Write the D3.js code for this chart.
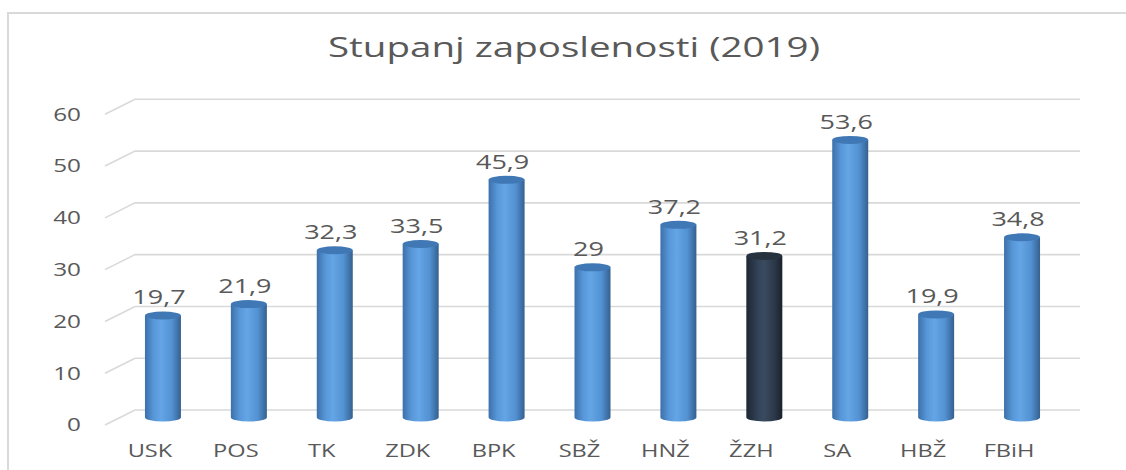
<html>
<head>
  <meta charset="utf-8">
  <script src="https://cdn.jsdelivr.net/npm/d3@7"></script>
  <style>
    body { margin: 0; background: #fff; }
    text { font-family: "Open Sans", sans-serif; fill: #595959; }
  </style>
</head>
<body>
<div id="chart"></div>
<script>

var categories = ["USK", "POS", "TK", "ZDK", "BPK", "SBŽ", "HNŽ", "ŽZH", "SA", "HBŽ", "FBiH"]
var values = [19.7, 21.9, 32.3, 33.5, 45.9, 29, 37.2, 31.2, 53.6, 19.9, 34.8]
var labels = ["19,7", "21,9", "32,3", "33,5", "45,9", "29", "37,2", "31,2", "53,6", "19,9", "34,8"]
var yTicks = [0, 10, 20, 30, 40, 50, 60]
var highlight = "ŽZH"
var title = "Stupanj zaposlenosti (2019)"

var W = 1126, H = 470
var svg = d3.select("#chart").append("svg").attr("width", W).attr("height", H)

// chart frame (only left + top visible in the picture)
svg.append("rect").attr("x", 8).attr("y", 13).attr("width", W + 20).attr("height", H + 20)
   .attr("fill", "none").attr("stroke", "#d9d9d9").attr("stroke-width", 2)

// back wall scales, depth goes (-30, +15) toward the viewer
var x = d3.scaleBand().domain(categories).range([135, 1080])
var y = d3.scaleLinear().domain([0, 60]).range([410, 99.3])
var dx = -30, dy = 15
var sx = 1.35   // source text looks stretched horizontally

var defs = svg.append("defs")
function grad(id, stops) {
  var g = defs.append("linearGradient").attr("id", id)
  stops.forEach(function(s) { g.append("stop").attr("offset", s[0]).attr("stop-color", s[1]) })
}
grad("blue", [[0, "#3d70a9"], [0.25, "#5898da"], [0.45, "#64a5e6"], [0.75, "#5291d2"], [1, "#35608f"]])
grad("dark", [[0, "#1d2733"], [0.35, "#34445a"], [0.5, "#3a4a5f"], [0.8, "#2a3748"], [1, "#19212b"]])

// gridlines with the floor slant
var grid = svg.append("g")
yTicks.forEach(function(t) {
  grid.append("path")
      .attr("d", "M" + (x.range()[0] + dx) + "," + (y(t) + dy) + "L" + x.range()[0] + "," + y(t) + "L" + x.range()[1] + "," + y(t))
      .attr("fill", "none").attr("stroke", "#d9d9d9").attr("stroke-width", 1.6)
  svg.append("text")
      .attr("transform", "translate(81," + (y(t) + dy) + ") scale(" + sx + ",1)")
      .attr("text-anchor", "end").attr("dy", "0.35em")
      .style("font-size", "18px").text(t)
})

// cylinders, sitting half way into the depth
var rx = 18, ry = 4
var bars = svg.append("g")
categories.forEach(function(c, i) {
  var cx = x(c) + x.bandwidth() / 2 + dx / 2
  var base = y(0) + dy / 2
  var top = y(values[i]) + dy / 2
  var dark = c === highlight
  bars.append("path")
      .attr("d", "M" + (cx - rx) + "," + top + "L" + (cx - rx) + "," + base +
                 "A" + rx + "," + ry + " 0 0 0 " + (cx + rx) + "," + base +
                 "L" + (cx + rx) + "," + top + "Z")
      .attr("fill", dark ? "url(#dark)" : "url(#blue)")
  bars.append("ellipse")
      .attr("cx", cx).attr("cy", top).attr("rx", rx).attr("ry", ry)
      .attr("fill", dark ? "#27323f" : "#4078b5")
  svg.append("text")
      .attr("transform", "translate(" + (cx - 4) + "," + (top - 11) + ") scale(" + sx + ",1)")
      .attr("text-anchor", "middle")
      .style("font-size", "20px").text(labels[i])
  svg.append("text")
      .attr("transform", "translate(" + (x(c) + x.bandwidth() / 2 + dx + 2) + ",457) scale(" + sx + ",1)")
      .attr("text-anchor", "middle")
      .style("font-size", "17.5px").text(c)
})

svg.append("text")
    .attr("x", 574).attr("y", 57)
    .attr("text-anchor", "middle")
    .attr("textLength", 492).attr("lengthAdjust", "spacingAndGlyphs")
    .style("font-size", "26.5px").text(title)

</script>
</body>
</html>
